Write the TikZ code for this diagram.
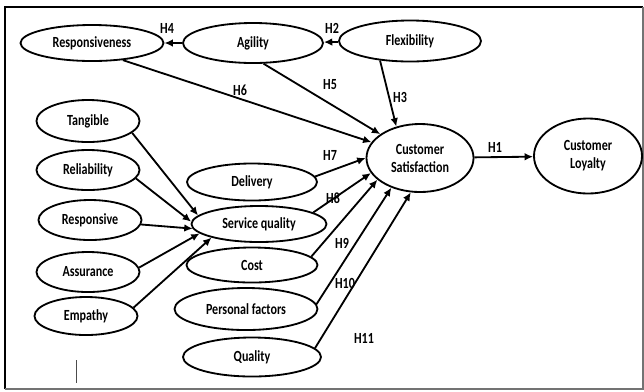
\documentclass[tikz,border=0pt]{standalone}
\usepackage{fontspec}
\setmainfont{Carlito}[FakeStretch=0.78]
\usetikzlibrary{shapes.geometric,arrows.meta}

\begin{document}
\begin{tikzpicture}[
  x=0.025cm, y=-0.025cm,
  construct/.style={
    draw, ellipse, line width=1.3pt, inner sep=1pt,
    align=center, font=\fontsize{11}{12.8}\selectfont\bfseries
  },
  arr/.style={-{Latex[length=2.1mm,width=1.9mm]}, line width=1.3pt},
  lbl/.style={font=\fontsize{11}{12}\selectfont\bfseries},
]
\useasboundingbox (0,0) rectangle (644,391);

%% --- frame ----------------------------------------------------------
\draw[line width=1.6pt] (5,389) -- (5,7) -- (643,7);
\draw[black!55, line width=0.8pt] (643,7) -- (643,389) -- (5,389);
\draw[black!70, line width=0.6pt] (76,360) -- (76,383);

%% --- top row --------------------------------------------------------
\node[construct, minimum width=3.575cm, minimum height=0.9cm]   (resp) at (92,43)  {Responsiveness};
\node[construct, minimum width=3.5cm,   minimum height=1.0cm]   (agil) at (253,43) {Agility};
\node[construct, minimum width=3.55cm,  minimum height=1.025cm] (flex) at (410,41) {Flexibility};

%% --- service quality dimensions (left column) -----------------------
\node[construct, minimum width=2.575cm, minimum height=1.05cm] (tang)  at (88,121) {Tangible};
\node[construct, minimum width=2.575cm, minimum height=1.0cm]  (reli)  at (88,170) {Reliability};
\node[construct, minimum width=2.575cm, minimum height=1.0cm]  (respv) at (90,220) {Responsive};
\node[construct, minimum width=2.575cm, minimum height=1.0cm]  (assur) at (88,272) {Assurance};
\node[construct, minimum width=2.575cm, minimum height=0.95cm] (empa)  at (86,316) {Empathy};

%% --- middle column --------------------------------------------------
\node[construct, minimum width=3.25cm,  minimum height=0.925cm] (deliv) at (252,182) {Delivery};
\node[construct, minimum width=3.375cm, minimum height=0.9cm]   (servq) at (259,224) {Service quality};
\node[construct, minimum width=3.275cm, minimum height=0.875cm] (cost)  at (252,265) {Cost};
\node[construct, minimum width=3.575cm, minimum height=1.05cm]  (persf) at (246,309) {Personal factors};
\node[construct, minimum width=3.45cm,  minimum height=0.975cm] (qual)  at (252,357) {Quality};

%% --- outcomes -------------------------------------------------------
\node[construct, minimum width=2.675cm, minimum height=1.7cm]   (sat) at (420,158) {Customer\\Satisfaction};
\node[construct, minimum width=2.7cm,   minimum height=1.875cm] (loy) at (588,156) {Customer\\Loyalty};

%% --- hypotheses -----------------------------------------------------
\draw[arr] (sat) -- (loy);
\draw[arr] (flex) -- (agil);
\draw[arr] (agil) -- (resp);
\draw[arr] (flex.213) -- (sat.127);
\draw[arr] (agil.-63) -- (sat.149);
\draw[arr] (resp.-29) -- (sat.162);
\draw[arr] (deliv.5) -- (sat.west);
\draw[arr] (servq.12) -- (sat.197);
\draw[arr] (cost.8) -- (sat.207);
\draw[arr] (persf.4) -- (sat.226);
\draw[arr] (qual.8) -- (sat.255);

%  dimensions into service quality
\draw[arr] (tang.-15) -- (servq.172);
\draw[arr] (reli.-10) -- (servq.178);
\draw[arr] (respv.-5) -- (servq.184);
\draw[arr] (assur.5) -- (servq.189);
\draw[arr] (empa.10) -- (servq.196);

%% --- hypothesis labels ----------------------------------------------
\node[lbl] (lh1)  at (495,147) {H1};
\node[lbl] (lh2)  at (332,28)  {H2};
\node[lbl] (lh3)  at (400,97)  {H3};
\node[lbl] (lh4)  at (167,28)  {H4};
\node[lbl] (lh5)  at (330,85)  {H5};
\node[lbl] (lh6)  at (240,90)  {H6};
\node[lbl] (lh7)  at (330,155) {H7};
\node[lbl] (lh8)  at (333,198) {H8};
\node[lbl] (lh9)  at (342,243) {H9};
\node[lbl] (lh10) at (345,283) {H10};
\node[lbl] (lh11) at (364,338) {H11};

\end{tikzpicture}
\end{document}
